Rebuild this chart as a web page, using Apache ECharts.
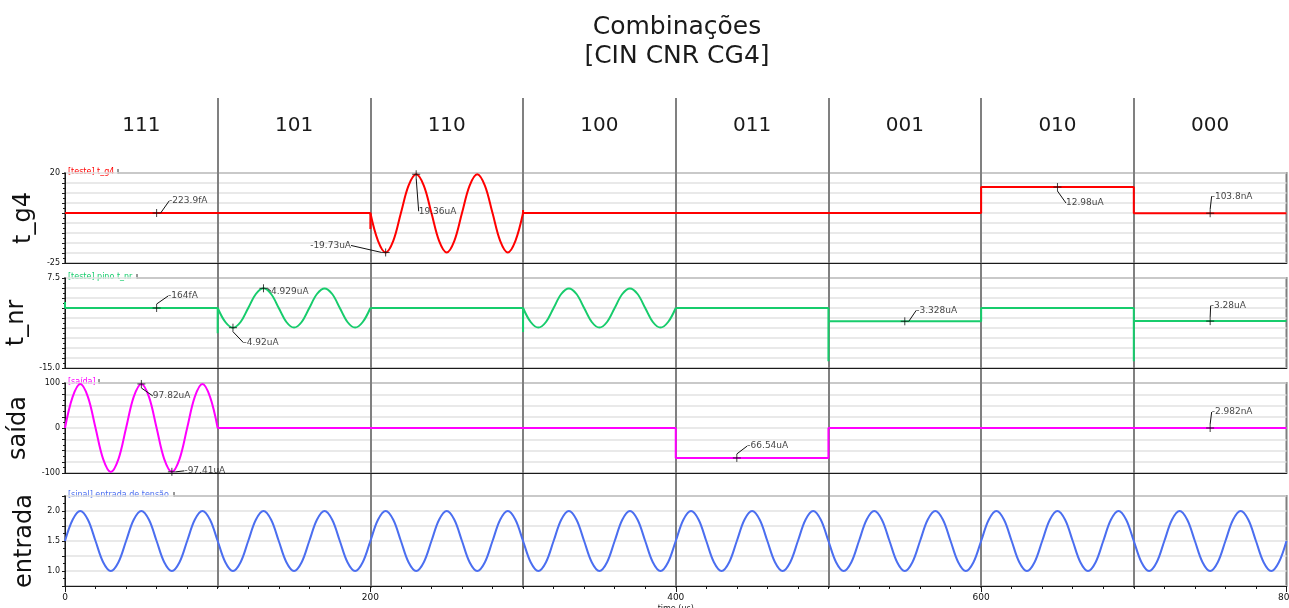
<!DOCTYPE html>
<html>
<head>
<meta charset="utf-8">
<script src="https://cdn.jsdelivr.net/npm/echarts@6/dist/echarts.min.js"></script>
<style>
  html, body { margin: 0; padding: 0; background: #ffffff; }
  #chart { width: 1289px; height: 608px; }
</style>
</head>
<body>
<div id="chart"></div>
<script>
// [CIN CNR CG4] input combination applied in each 100 µs window
const combinations = ['111', '101', '110', '100', '011', '001', '010', '000'];
const timeTickLabels = ['0', '200', '400', '600', '800'];

// Oscillating parts of the traces, one sample every 5 µs
const waveStep = 5;

// entrada: input voltage (V), 0 .. 800 µs
const entradaStart = 0;
const entradaWave = [
  1.5, 1.854, 2, 1.854, 1.5, 1.146, 1, 1.146,
  1.5, 1.854, 2, 1.854, 1.5, 1.146, 1, 1.146,
  1.5, 1.854, 2, 1.854, 1.5, 1.146, 1, 1.146,
  1.5, 1.854, 2, 1.854, 1.5, 1.146, 1, 1.146,
  1.5, 1.854, 2, 1.854, 1.5, 1.146, 1, 1.146,
  1.5, 1.854, 2, 1.854, 1.5, 1.146, 1, 1.146,
  1.5, 1.854, 2, 1.854, 1.5, 1.146, 1, 1.146,
  1.5, 1.854, 2, 1.854, 1.5, 1.146, 1, 1.146,
  1.5, 1.854, 2, 1.854, 1.5, 1.146, 1, 1.146,
  1.5, 1.854, 2, 1.854, 1.5, 1.146, 1, 1.146,
  1.5, 1.854, 2, 1.854, 1.5, 1.146, 1, 1.146,
  1.5, 1.854, 2, 1.854, 1.5, 1.146, 1, 1.146,
  1.5, 1.854, 2, 1.854, 1.5, 1.146, 1, 1.146,
  1.5, 1.854, 2, 1.854, 1.5, 1.146, 1, 1.146,
  1.5, 1.854, 2, 1.854, 1.5, 1.146, 1, 1.146,
  1.5, 1.854, 2, 1.854, 1.5, 1.146, 1, 1.146,
  1.5, 1.854, 2, 1.854, 1.5, 1.146, 1, 1.146,
  1.5, 1.854, 2, 1.854, 1.5, 1.146, 1, 1.146,
  1.5, 1.854, 2, 1.854, 1.5, 1.146, 1, 1.146,
  1.5, 1.854, 2, 1.854, 1.5, 1.146, 1, 1.146,
  1.5
];

// t_g4 current (uA): oscillation while combination 110 is applied
const tg4WaveStart = 200;
const tg4Wave = [0, -13.9, -19.73, -13.9, 0, 13.7, 19.36, 13.7, 0, -13.9, -19.7,
  -13.9, 0, 13.7, 19.4, 13.7, 0, -13.9, -19.7, -13.9, 0];

// t_nr current (uA): oscillation during 101 and 100
const tnrWave1Start = 100;
const tnrWave1 = [0, -3.5, -4.92, -3.5, 0, 3.5, 4.929, 3.5, 0, -3.5, -4.9,
  -3.5, 0, 3.5, 4.9, 3.5, 0, -3.5, -4.9, -3.5, 0];
const tnrWave2Start = 300;
const tnrWave2 = [0, -3.5, -4.9, -3.5, 0, 3.5, 4.9, 3.5, 0, -3.5, -4.9,
  -3.5, 0, 3.5, 4.9, 3.5, 0, -3.5, -4.9, -3.5, 0];

// saída current (uA): oscillation during 111
const saidaWaveStart = 0;
const saidaWave = [0, 69, 97.6, 69, 0, -69, -97.6, -69, 0, 69, 97.82,
  69, 0, -69, -97.41, -69, 0, 69, 97.6, 69, 0];

// Flat levels and switching spikes as [time µs, value]; null breaks the trace
const tg4Steps = [[0, -2.239e-7], [200, -2.239e-7], [200, -8], [200, 0], [250, null],
  [300, 0], [300, 1.5], [300, 0], [600, 0], [600, 12.98], [700, 12.98],
  [700, -0.1038], [800, -0.1038]];
const tnrSteps = [[0, 1.5], [0, -1.64e-7], [100, -1.64e-7], [100, -6.3], [100, 0], [150, null],
  [200, 0], [300, 0], [300, -6], [300, 0], [350, null],
  [400, 0], [500, 0], [500, -13.3], [500, -3.328], [600, -3.328], [600, 0],
  [700, 0], [700, -13.3], [700, -3.28], [800, -3.28]];
const saidaSteps = [[100, 0], [200, 0], [200, 0.8], [200, 0], [400, 0], [400, -66.54],
  [500, -66.54], [500, -0.002982], [800, -0.002982]];

// Cursor readouts: [time µs, value, text]
const tg4Marks = [[60, -2.239e-7, '-223.9fA'], [230, 19.36, '19.36uA'], [210, -19.73, '-19.73uA'],
  [650, 12.98, '12.98uA'], [750, -0.1038, '-103.8nA']];
const tnrMarks = [[60, -1.64e-7, '-164fA'], [130, 4.929, '4.929uA'], [110, -4.92, '-4.92uA'],
  [550, -3.328, '-3.328uA'], [750, -3.28, '-3.28uA']];
const saidaMarks = [[50, 97.82, '97.82uA'], [70, -97.41, '-97.41uA'],
  [440, -66.54, '-66.54uA'], [750, -0.002982, '-2.982nA']];

// Value-axis labels shown on each strip
const tg4TickLabels = ['20', '-25'];
const tnrTickLabels = ['7.5', '-15.0'];
const saidaTickLabels = ['100', '0', '-100'];
const entradaTickLabels = ['2.0', '1.5', '1.0'];

// ---- layout and styling ----
const FONT = '"DejaVu Sans", Verdana, sans-serif';
const PLOT_LEFT = 65;
const PLOT_RIGHT = 2.5;

// Offsets (px) of each readout text from its default spot right of the cursor
const tg4LabelOffsets = [[4, -12], [-6, 37], [-84, -7], [0, 16], [-7, -17]];
const tnrLabelOffsets = [[3, -12], [-1, 3], [2, 15], [3, -11], [-8, -15.5]];
const saidaLabelOffsets = [[3, 12], [4, -1], [2, -12], [-7, -16]];

const strips = [
  { title: 't_g4', legend: '[teste] t_g4', color: '#ff0000', min: -25, max: 20, interval: 5,
    ticks: tg4TickLabels, top: 173, height: 90, tabRight: 118,
    waves: [[tg4WaveStart, tg4Wave]], steps: tg4Steps, marks: tg4Marks, offsets: tg4LabelOffsets },
  { title: 't_nr', legend: '[teste] pino t_nr', color: '#17cc6c', min: -15, max: 7.5, interval: 2.5,
    ticks: tnrTickLabels, top: 278, height: 90, tabRight: 137,
    waves: [[tnrWave1Start, tnrWave1], [tnrWave2Start, tnrWave2]], steps: tnrSteps, marks: tnrMarks, offsets: tnrLabelOffsets },
  { title: 'saída', legend: '[saída]', color: '#ff00ff', min: -100, max: 100, interval: 25,
    ticks: saidaTickLabels, top: 383, height: 90, tabRight: 99,
    waves: [[saidaWaveStart, saidaWave]], steps: saidaSteps, marks: saidaMarks, offsets: saidaLabelOffsets },
  { title: 'entrada', legend: '[sinal] entrada de tensão', color: '#4b6ef0', min: 0.75, max: 2.25, interval: 0.25,
    ticks: entradaTickLabels, top: 496, height: 90, tabRight: 174,
    waves: [[entradaStart, entradaWave]], steps: null, marks: null, offsets: null }
];

const grids = [];
const xAxes = [];
const yAxes = [];
const series = [];
const graphics = [];

strips.forEach((s, i) => {
  const isLast = i === strips.length - 1;
  grids.push({
    left: PLOT_LEFT, right: PLOT_RIGHT, top: s.top, height: s.height,
    containLabel: false, outerBoundsMode: 'none',
    show: true, borderColor: '#7f7f7f', borderWidth: 2, backgroundColor: 'transparent'
  });
  xAxes.push({
    type: 'value', gridIndex: i, min: 0, max: 800, interval: 200,
    axisLine: { show: true, onZero: false, lineStyle: { color: '#1a1a1a', width: 1 } },
    axisTick: { show: isLast, length: 6, lineStyle: { color: '#1a1a1a' } },
    minorTick: { show: isLast, splitNumber: 10, length: 3, lineStyle: { color: '#1a1a1a' } },
    axisLabel: {
      show: isLast, fontSize: 9, color: '#111', fontFamily: FONT, margin: 7,
      hideOverlap: false,
      formatter: v => timeTickLabels.find(l => Number(l) === v) || ''
    },
    splitLine: { show: false },
    name: isLast ? 'time (us)' : '', nameLocation: 'middle', nameGap: 19,
    nameTextStyle: { fontSize: 8, color: '#222', fontFamily: FONT }
  });
  yAxes.push({
    type: 'value', gridIndex: i, min: s.min, max: s.max, interval: s.interval,
    axisLine: { show: true, onZero: false, lineStyle: { color: '#1a1a1a', width: 1 } },
    axisTick: { show: true, length: 3, lineStyle: { color: '#1a1a1a' } },
    minorTick: { show: true, splitNumber: 2, length: 2, lineStyle: { color: '#1a1a1a' } },
    axisLabel: {
      fontSize: 8, color: '#111', fontFamily: FONT, margin: 5, showMinLabel: true, showMaxLabel: true,
      formatter: v => s.ticks.find(l => Math.abs(parseFloat(l) - v) < 1e-9) || ''
    },
    splitLine: { show: true, lineStyle: { color: '#e2e2e2', width: 1.5 } },
    name: s.title, nameLocation: 'middle', nameGap: 28,
    nameTextStyle: { fontSize: 24, color: '#111', fontFamily: FONT }
  });

  s.waves.forEach(([start, values]) => {
    series.push({
      type: 'line', name: s.legend, xAxisIndex: i, yAxisIndex: i,
      data: values.map((v, k) => [start + k * waveStep, v]),
      showSymbol: false, symbol: 'none', smooth: 0.35,
      lineStyle: { color: s.color, width: 2 }, itemStyle: { color: s.color },
      z: 3, silent: true
    });
  });
  if (s.steps) {
    series.push({
      type: 'line', name: s.legend, xAxisIndex: i, yAxisIndex: i,
      data: s.steps, showSymbol: false, symbol: 'none', connectNulls: false,
      lineStyle: { color: s.color, width: 2 }, itemStyle: { color: s.color },
      z: 3, silent: true
    });
  }
  if (s.marks) {
    const offsets = s.offsets;
    series.push({
      type: 'scatter', name: s.legend + ' cursor', xAxisIndex: i, yAxisIndex: i,
      data: s.marks.map(m => ({ value: [m[0], m[1]], name: m[2] })),
      symbol: 'path://M0,5L10,5M5,0L5,10', symbolSize: 8,
      itemStyle: { color: 'none', borderColor: '#111', borderWidth: 1 },
      label: {
        show: true, position: 'right', distance: 2, formatter: '{b}',
        fontSize: 9, color: '#111', fontFamily: FONT
      },
      labelLayout: p => ({ dx: offsets[p.dataIndex][0], dy: offsets[p.dataIndex][1] }),
      labelLine: { show: true, lineStyle: { color: '#111', width: 1 } },
      clip: false, z: 6, silent: true
    });
  }

  // legend tab sitting on the strip's top border
  graphics.push({
    type: 'group', z: 20,
    children: [
      { type: 'rect', shape: { x: PLOT_LEFT + 1, y: s.top - 4, width: s.tabRight - PLOT_LEFT - 1, height: 6 },
        style: { fill: '#ffffff' } },
      { type: 'line', shape: { x1: s.tabRight, y1: s.top - 4, x2: s.tabRight, y2: s.top + 1 },
        style: { stroke: '#333', lineWidth: 1 } },
      { type: 'text', x: PLOT_LEFT + 3, y: s.top - 1,
        style: { text: s.legend, fill: s.color, font: '8px ' + FONT, verticalAlign: 'middle', align: 'left' } }
    ]
  });
});

// Window dividers every 100 µs, running through all strips
grids.push({ left: PLOT_LEFT, right: PLOT_RIGHT, top: 98, height: 490, show: false,
  containLabel: false, outerBoundsMode: 'none' });
xAxes.push({
  type: 'value', gridIndex: 4, min: 0, max: 800, interval: 100,
  axisLine: { show: false }, axisTick: { show: false }, axisLabel: { show: false },
  splitLine: { show: true, showMinLine: false, showMaxLine: false, lineStyle: { color: '#808080', width: 2 } }
});
yAxes.push({ type: 'value', gridIndex: 4, min: 0, max: 1, show: false });

// Combination headings centred in each window
grids.push({ left: PLOT_LEFT, right: PLOT_RIGHT, top: 98, height: 10, show: false,
  containLabel: false, outerBoundsMode: 'none' });
xAxes.push({
  type: 'category', gridIndex: 5, data: combinations, boundaryGap: true, position: 'bottom',
  axisLine: { show: false }, axisTick: { show: false }, splitLine: { show: false },
  axisLabel: { show: true, fontSize: 20, color: '#1a1a1a', fontFamily: FONT, margin: 8, interval: 0 }
});
yAxes.push({ type: 'value', gridIndex: 5, min: 0, max: 1, show: false });

graphics.push({
  type: 'text', x: 677, y: 13, z: 20,
  style: {
    text: 'Combinações\n[CIN CNR CG4]', font: '25px ' + FONT, fill: '#1a1a1a',
    align: 'center', verticalAlign: 'top', lineHeight: 29
  }
});

const chart = echarts.init(document.getElementById('chart'), null, { renderer: 'canvas' });
chart.setOption({
  animation: false,
  backgroundColor: '#ffffff',
  grid: grids,
  xAxis: xAxes,
  yAxis: yAxes,
  series: series,
  graphic: graphics
});
</script>
</body>
</html>
